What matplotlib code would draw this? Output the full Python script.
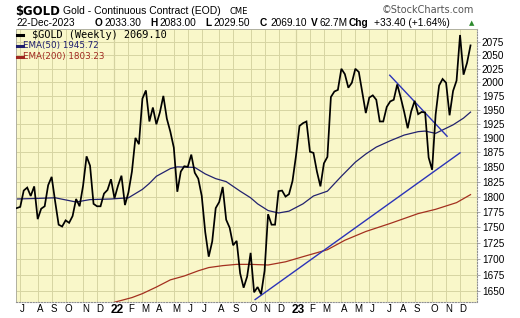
import matplotlib
matplotlib.use('Agg')
import matplotlib.pyplot as plt
import pandas as pd
from matplotlib.ticker import FixedLocator, FixedFormatter, NullLocator
from matplotlib.transforms import ScaledTranslation
from matplotlib.lines import Line2D

# ---------------- data ----------------
START_DATE = '2021-06-25'   # first weekly bar (Friday)
gold_close = [
    1781, 1783, 1810, 1815, 1801, 1817, 1763, 1780, 1784, 1819,
    1833, 1792, 1754, 1751, 1761, 1757, 1768, 1796, 1784, 1818,
    1868, 1852, 1788, 1784, 1784, 1805, 1811, 1829, 1797, 1818,
    1835, 1786, 1807, 1842, 1900, 1889, 1970, 1985, 1929, 1954,
    1924, 1945, 1975, 1934, 1911, 1883, 1808, 1842, 1851, 1850,
    1871, 1840, 1830, 1801, 1742, 1703, 1727, 1781, 1791, 1816,
    1762, 1749, 1721, 1728, 1677, 1655, 1672, 1709, 1648, 1656,
    1645, 1681, 1771, 1754, 1754, 1809, 1810, 1800, 1804, 1826,
    1869, 1921, 1926, 1929, 1876, 1874, 1842, 1817, 1856, 1867,
    1973, 1983, 1986, 2025, 2015, 1990, 1999, 2025, 2019, 1981,
    1944, 1972, 1976, 1968, 1929, 1929, 1955, 1965, 1968, 1996,
    1972, 1946, 1917, 1947, 1966, 1942, 1946, 1945, 1866, 1845,
    1941, 1994, 2006, 1999, 1940, 1984, 2003, 2089, 2014, 2036,
    2069.10,
]

ema50_dates = ['2021-06-25', '2021-08-06', '2021-09-10', '2021-10-22', '2021-11-19',
               '2021-12-31', '2022-02-04', '2022-03-04', '2022-03-18', '2022-04-01',
               '2022-04-29', '2022-05-13', '2022-06-17', '2022-07-08', '2022-07-29',
               '2022-08-19', '2022-09-16', '2022-10-07', '2022-10-21', '2022-11-11',
               '2022-12-02', '2022-12-23', '2023-01-20', '2023-02-10', '2023-03-10',
               '2023-04-07', '2023-05-05', '2023-05-26', '2023-06-16', '2023-07-14',
               '2023-08-11', '2023-09-08', '2023-09-22', '2023-10-13', '2023-10-27',
               '2023-11-17', '2023-12-08', '2023-12-22']
ema50_values = [1796, 1797, 1798, 1791, 1795,
                1796, 1798, 1812, 1822, 1834,
                1847, 1850, 1849, 1838, 1830,
                1825, 1809, 1798, 1788, 1777,
                1773, 1776, 1788, 1801, 1809,
                1834, 1858, 1872, 1884, 1895,
                1905, 1911, 1912, 1908, 1914,
                1923, 1935, 1945.72]

ema200_dates = ['2022-01-07', '2022-02-11', '2022-03-04', '2022-04-01', '2022-04-29',
                '2022-05-27', '2022-06-24', '2022-07-15', '2022-08-12', '2022-09-09',
                '2022-10-07', '2022-11-11', '2022-12-16', '2023-01-20', '2023-03-10',
                '2023-04-14', '2023-05-26', '2023-07-14', '2023-09-08', '2023-10-13',
                '2023-11-24', '2023-12-22']
ema200_values = [1633, 1640, 1646, 1656, 1667,
                 1673, 1681, 1686, 1689, 1691,
                 1691, 1690, 1695, 1703, 1714,
                 1729, 1743, 1756, 1772, 1779,
                 1790, 1803.23]

# hand-drawn trendlines (start/end date, start/end price)
support_dates = ['2022-10-16', '2023-12-01']
support_values = [1637, 1874]
resist_dates = ['2023-07-13', '2023-11-05']
resist_values = [2013, 1903]

y_ticks = [1650, 1675, 1700, 1725, 1750, 1775, 1800, 1825, 1850, 1875, 1900,
           1925, 1950, 1975, 2000, 2025, 2050, 2075]
month_letters = ['J', 'F', 'M', 'A', 'M', 'J', 'J', 'A', 'S', 'O', 'N', 'D']

# ---------------- figure ----------------
W, H = 520, 318
fig = plt.figure(figsize=(W / 100, H / 100), dpi=100)
fig.patch.set_facecolor('white')


def fx(px):
    return px / W


def fy(py):
    return 1 - py / H


L, R, T, B = 16, 477, 29, 302.3
ax = fig.add_axes([fx(L), fy(B), fx(R) - fx(L), fy(T) - fy(B)])
ax.set_facecolor('#f9f7c9')

dates = pd.date_range(START_DATE, periods=len(gold_close), freq='W-FRI')

ax.set_yscale('log')
ax.set_ylim(1632.9, 2100.6)
ax.set_xlim(dates[0] - pd.Timedelta(days=1.5), dates[-1] + pd.Timedelta(days=13))

# y axis on right
ax.yaxis.set_major_locator(FixedLocator(y_ticks))
ax.yaxis.set_major_formatter(FixedFormatter([str(v) for v in y_ticks]))
ax.yaxis.set_minor_locator(NullLocator())
ax.yaxis.tick_right()
ax.tick_params(axis='y', which='both', length=2, width=0.6, color='#999999',
               pad=1.5, labelsize=7.2, labelcolor='black')
for lab in ax.get_yticklabels():
    lab.set_fontfamily('Liberation Sans')

# month ticks at first bar of each month (skip the partial first month)
s = pd.Series(dates)
firsts = s.groupby([s.dt.year, s.dt.month]).first().tolist()[1:]
labels = []
for d in firsts:
    if d.month == 1:
        labels.append(f"{d.year % 100:02d}")
    else:
        labels.append(month_letters[d.month - 1])
ax.xaxis.set_major_locator(FixedLocator([matplotlib.dates.date2num(d) for d in firsts]))
ax.xaxis.set_major_formatter(FixedFormatter(labels))
ax.xaxis.set_minor_locator(NullLocator())
ax.tick_params(axis='x', length=0, pad=1.5, labelsize=7.0, labelcolor='black')
off = ScaledTranslation(2.5 / 100, 0, fig.dpi_scale_trans)
for lab, d in zip(ax.get_xticklabels(), firsts):
    lab.set_fontfamily('Liberation Sans')
    lab.set_transform(lab.get_transform() + off)
    if d.month == 1:
        lab.set_fontweight('bold')
        lab.set_fontsize(8.6)

# grid
ax.grid(True, which='major', axis='both', color='#d6d4a2', linewidth=0.7)
ax.set_axisbelow(True)
for d in firsts:
    if d.month == 1:
        ax.axvline(d, color='#a9a77a', linewidth=0.8, zorder=0.5)

for sp in ['top', 'left']:
    ax.spines[sp].set_color('#b0b0a0')
    ax.spines[sp].set_linewidth(0.7)
for sp in ['right', 'bottom']:
    ax.spines[sp].set_color('#909090')
    ax.spines[sp].set_linewidth(0.8)
    ax.spines[sp].set_linestyle((0, (1, 1.5)))

# series
ax.plot(pd.to_datetime(ema200_dates), ema200_values, color='#a3301f', lw=0.9, zorder=2)
ax.plot(pd.to_datetime(ema50_dates), ema50_values, color='#22226e', lw=0.9, zorder=2)
ax.plot(pd.to_datetime(support_dates), support_values, color='#2b33b8', lw=1.0, zorder=3)
ax.plot(pd.to_datetime(resist_dates), resist_values, color='#2b33b8', lw=1.0, zorder=3)
ax.plot(dates, gold_close, color='black', lw=1.25, zorder=4, solid_joinstyle='miter')

# ---------------- header texts ----------------
fig.text(fx(15), fy(15), '$GOLD', fontsize=8.4, fontweight='bold',
         family='DejaVu Sans', va='baseline', ha='left')
fig.text(fx(63), fy(14.3), 'Gold - Continuous Contract (EOD)', fontsize=7.45,
         family='Liberation Sans', va='baseline', ha='left')
fig.text(fx(230), fy(14.3), 'CME', fontsize=6, family='DejaVu Sans',
         va='baseline', ha='left')
fig.text(fx(474), fy(13.3), '\u00a9StockCharts.com', fontsize=7, color='#555555',
         family='DejaVu Sans', va='baseline', ha='right')

row_y = fy(26.3)
pieces = [
    (16, '22-Dec-2023', False),
    (95, 'O', True), (104, '2033.30', False),
    (150.5, 'H', True), (159.5, '2083.00', False),
    (205, 'L', True), (213.5, '2029.50', False),
    (260, 'C', True), (270.5, '2069.10', False),
    (311, 'V', True), (319.5, '62.7M', False),
    (349, 'Chg', True), (373.5, '+33.40 (+1.64%)', False),
]
for px, txt, bold in pieces:
    fig.text(fx(px), row_y, txt, fontsize=7.3,
             fontweight='bold' if bold else 'normal',
             family='Liberation Sans', va='baseline', ha='left')
fig.text(fx(471.5), fy(25.5), '\u25b2', fontsize=5, color='#2c8a2c',
         family='DejaVu Sans', va='baseline', ha='center')

# legend
leg = [
    (35.0, '$GOLD (Weekly) 2069.10', 'black', 'DejaVu Sans Mono', 7.4, 32),
    (45.5, 'EMA(50) 1945.72', '#1e1e6e', 'DejaVu Sans', 6.3, 23),
    (57.0, 'EMA(200) 1803.23', '#a02820', 'DejaVu Sans', 6.3, 23),
]
for py, txt, col, fam, fs, tx in leg:
    fig.add_artist(Line2D([fx(17), fx(22.5)], [fy(py), fy(py)], color=col, lw=2.2,
                          transform=fig.transFigure))
    fig.text(fx(tx), fy(py), txt, color=col, family=fam, fontsize=fs,
             va='center', ha='left')

fig.savefig('out.png', dpi=100)
